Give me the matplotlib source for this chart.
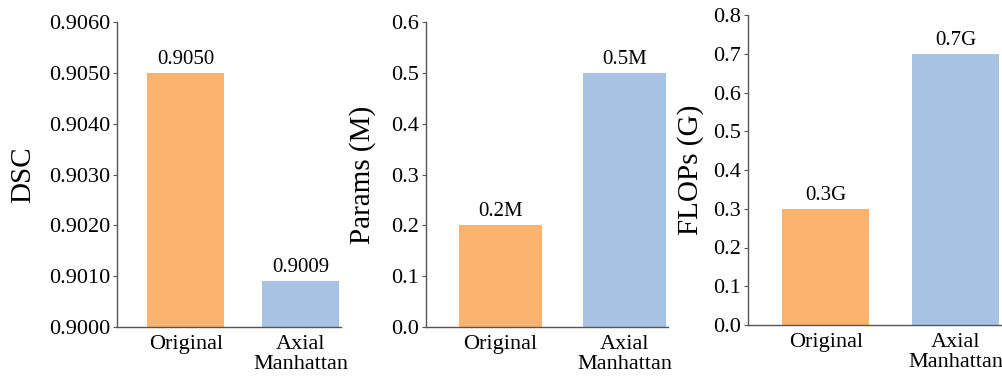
import matplotlib
matplotlib.use("Agg")
import matplotlib.pyplot as plt

plt.rcParams['font.family'] = ['Liberation Serif', 'DejaVu Serif']

categories = ["Original", "Axial\nManhattan"]
dsc_values = [0.9050, 0.9009]
params_values = [0.2, 0.5]
flops_values = [0.3, 0.7]

dsc_labels = ["0.9050", "0.9009"]
params_labels = ["0.2M", "0.5M"]
flops_labels = ["0.3G", "0.7G"]

dsc_ticks = [0.9000, 0.9010, 0.9020, 0.9030, 0.9040, 0.9050, 0.9060]
params_ticks = [0.0, 0.1, 0.2, 0.3, 0.4, 0.5, 0.6]
flops_ticks = [0.0, 0.1, 0.2, 0.3, 0.4, 0.5, 0.6, 0.7, 0.8]

bar_colors = ["#FBB36F", "#A8C2E4"]

W, H = 1002, 376
fig = plt.figure(figsize=(W / 100, H / 100), dpi=100)


def px_axes(x0, x1, y_top, y_bot):
    return fig.add_axes([x0 / W, 1 - y_bot / H, (x1 - x0) / W, (y_bot - y_top) / H])


panels = [
    (px_axes(117, 341, 22, 327), dsc_values, dsc_labels, dsc_ticks, "DSC", "%.4f", 0.9000, 0.9060, 36),
    (px_axes(426, 668, 22, 327), params_values, params_labels, params_ticks, "Params (M)", "%.1f", 0.0, 0.6, 376),
    (px_axes(748, 1001, 15, 325), flops_values, flops_labels, flops_ticks, "FLOPs (G)", "%.1f", 0.0, 0.8, 704),
]

spine_color = "#555555"
for ax, vals, labels, ticks, ylabel, fmt, ymin, ymax, label_x in panels:
    x = range(len(categories))
    bars = ax.bar(x, [v - ymin for v in vals], bottom=ymin, width=0.67, color=bar_colors)
    ax.set_xlim(-0.6, 1.35)
    ax.set_ylim(ymin, ymax)
    ax.set_yticks(ticks)
    ax.set_yticklabels([fmt % t for t in ticks])
    ax.set_xticks(list(x))
    ax.set_xticklabels(categories, linespacing=1.05)
    ax.set_ylabel(ylabel, fontsize=21)
    ax.yaxis.set_label_coords(label_x / W, ax.get_position().y0 + ax.get_position().height / 2,
                              transform=fig.transFigure)
    for sp in ("top", "right"):
        ax.spines[sp].set_visible(False)
    for sp in ("left", "bottom"):
        ax.spines[sp].set_color(spine_color)
        ax.spines[sp].set_linewidth(1.0)
    ax.tick_params(axis="y", labelsize=16, length=3, color=spine_color, pad=2)
    ax.tick_params(axis="x", labelsize=16, length=0, pad=6)
    for b, v, lab in zip(bars, vals, labels):
        ax.annotate(lab, (b.get_x() + b.get_width() / 2, v), xytext=(0, 3),
                    textcoords="offset points", ha="center", va="bottom", fontsize=15)

fig.savefig("out.png", dpi=100)
